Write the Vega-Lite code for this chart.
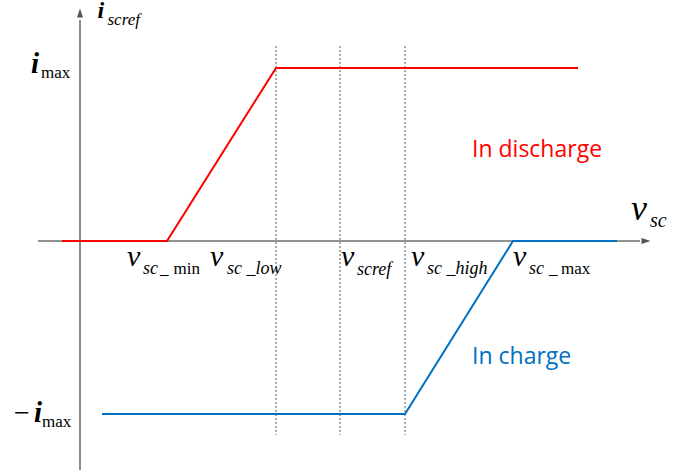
{
  "$schema": "https://vega.github.io/schema/vega-lite/v6.json",
  "width": 692,
  "height": 472,
  "padding": 0,
  "autosize": {"type": "none"},
  "config": {"view": {"stroke": null}},
  "datasets": {
    "axes": [
      {"x": -0.42, "y": 0, "x2": 5.6, "y2": 0},
      {"x": 0, "y": -1.324, "x2": 0, "y2": 1.277}
    ],
    "arrowUp": [{"x": 0, "y": 1.318}],
    "arrowRight": [{"x": 5.66, "y": 0}],
    "curves": [
      {"series": "discharge", "order": 1, "x": -0.18, "y": 0},
      {"series": "discharge", "order": 2, "x": 0.87, "y": 0},
      {"series": "discharge", "order": 3, "x": 1.96, "y": 1},
      {"series": "discharge", "order": 4, "x": 4.98, "y": 1},
      {"series": "charge", "order": 1, "x": 0.22, "y": -1},
      {"series": "charge", "order": 2, "x": 3.25, "y": -1},
      {"series": "charge", "order": 3, "x": 4.33, "y": 0},
      {"series": "charge", "order": 4, "x": 5.37, "y": 0}
    ],
    "guides": [
      {"x": 1.96, "y": 1.127, "y2": -1.121},
      {"x": 2.6, "y": 1.127, "y2": -1.121},
      {"x": 3.25, "y": 1.127, "y2": -1.121}
    ],
    "mainV": [
      {"label": "v", "x": 0.47, "y": -0.145},
      {"label": "v", "x": 1.3, "y": -0.145},
      {"label": "v", "x": 2.61, "y": -0.145},
      {"label": "v", "x": 3.31, "y": -0.145},
      {"label": "v", "x": 4.33, "y": -0.145}
    ],
    "mainI": [
      {"label": "i", "x": -0.49, "y": 0.971},
      {"label": "i", "x": -0.46, "y": -1.046}
    ],
    "smallI": [
      {"label": "i", "x": 0.175, "y": 1.289}
    ],
    "minus": [{"label": "−", "x": -0.66, "y": -1.046}],
    "axisV": [{"label": "v", "x": 5.51, "y": 0.121}],
    "subItalic": [
      {"label": "sc", "x": 0.63, "y": -0.191},
      {"label": "sc _low", "x": 1.47, "y": -0.191},
      {"label": "scref", "x": 2.77, "y": -0.197},
      {"label": "sc _high", "x": 3.47, "y": -0.191},
      {"label": "sc", "x": 4.49, "y": -0.191}
    ],
    "subTop": [
      {"label": "scref", "x": 0.275, "y": 1.249}
    ],
    "subAxis": [{"label": "sc", "x": 5.7, "y": 0.081}],
    "subUpright": [
      {"label": "_", "x": 0.8, "y": -0.191},
      {"label": "min", "x": 0.935, "y": -0.191},
      {"label": "_", "x": 4.69, "y": -0.191},
      {"label": "max", "x": 4.81, "y": -0.191},
      {"label": "max", "x": -0.39, "y": 0.942},
      {"label": "max", "x": -0.38, "y": -1.075}
    ],
    "notes": [
      {"label": "In discharge", "series": "discharge", "x": 3.92, "y": 0.486},
      {"label": "In charge", "series": "charge", "x": 3.92, "y": -0.711}
    ]
  },
  "encoding": {
    "x": {"field": "x", "type": "quantitative", "axis": null, "scale": {"domain": [-0.8, 6.12], "nice": false, "zero": false}},
    "y": {"field": "y", "type": "quantitative", "axis": null, "scale": {"domain": [-1.3353, 1.3931], "nice": false, "zero": false}}
  },
  "layer": [
    {
      "data": {"name": "guides"},
      "mark": {"type": "rule", "color": "#555555", "strokeWidth": 1, "strokeDash": [2, 2]},
      "encoding": {"y2": {"field": "y2"}}
    },
    {
      "data": {"name": "axes"},
      "mark": {"type": "rule", "color": "#6e6e6e", "strokeWidth": 1.6},
      "encoding": {"x2": {"field": "x2"}, "y2": {"field": "y2"}}
    },
    {
      "data": {"name": "arrowUp"},
      "mark": {"type": "point", "shape": "M-0.33,0.5L0,-0.5L0.33,0.5Z", "filled": true, "color": "#555555", "opacity": 1, "size": 324}
    },
    {
      "data": {"name": "arrowRight"},
      "mark": {"type": "point", "shape": "M-0.5,-0.33L0.5,0L-0.5,0.33Z", "filled": true, "color": "#555555", "opacity": 1, "size": 324}
    },
    {
      "data": {"name": "curves"},
      "mark": {"type": "line", "strokeWidth": 2},
      "encoding": {
        "color": {"field": "series", "type": "nominal", "legend": null, "scale": {"domain": ["discharge", "charge"], "range": ["#ff0000", "#0070c0"]}},
        "order": {"field": "order", "type": "quantitative"}
      }
    },
    {
      "data": {"name": "mainV"},
      "mark": {"type": "text", "font": "Liberation Serif", "fontStyle": "italic", "fontSize": 30, "align": "left", "baseline": "alphabetic", "color": "#000000"},
      "encoding": {"text": {"field": "label"}}
    },
    {
      "data": {"name": "mainI"},
      "mark": {"type": "text", "font": "Liberation Serif", "fontStyle": "italic", "fontWeight": "bold", "fontSize": 29, "align": "left", "baseline": "alphabetic", "color": "#000000"},
      "encoding": {"text": {"field": "label"}}
    },
    {
      "data": {"name": "smallI"},
      "mark": {"type": "text", "font": "Liberation Serif", "fontStyle": "italic", "fontWeight": "bold", "fontSize": 24, "align": "left", "baseline": "alphabetic", "color": "#000000"},
      "encoding": {"text": {"field": "label"}}
    },
    {
      "data": {"name": "minus"},
      "mark": {"type": "text", "font": "Liberation Serif", "fontSize": 28, "align": "left", "baseline": "alphabetic", "color": "#000000"},
      "encoding": {"text": {"field": "label"}}
    },
    {
      "data": {"name": "axisV"},
      "mark": {"type": "text", "font": "Liberation Serif", "fontStyle": "italic", "fontSize": 36, "align": "left", "baseline": "alphabetic", "color": "#000000"},
      "encoding": {"text": {"field": "label"}}
    },
    {
      "data": {"name": "subItalic"},
      "mark": {"type": "text", "font": "Liberation Serif", "fontStyle": "italic", "fontSize": 18, "align": "left", "baseline": "alphabetic", "color": "#000000"},
      "encoding": {"text": {"field": "label"}}
    },
    {
      "data": {"name": "subTop"},
      "mark": {"type": "text", "font": "Liberation Serif", "fontStyle": "italic", "fontSize": 17, "align": "left", "baseline": "alphabetic", "color": "#000000"},
      "encoding": {"text": {"field": "label"}}
    },
    {
      "data": {"name": "subAxis"},
      "mark": {"type": "text", "font": "Liberation Serif", "fontStyle": "italic", "fontSize": 20, "align": "left", "baseline": "alphabetic", "color": "#000000"},
      "encoding": {"text": {"field": "label"}}
    },
    {
      "data": {"name": "subUpright"},
      "mark": {"type": "text", "font": "Liberation Serif", "fontSize": 17, "align": "left", "baseline": "alphabetic", "color": "#000000"},
      "encoding": {"text": {"field": "label"}}
    },
    {
      "data": {"name": "notes"},
      "mark": {"type": "text", "font": "Open Sans", "fontSize": 23, "align": "left", "baseline": "alphabetic"},
      "encoding": {
        "text": {"field": "label"},
        "color": {"field": "series", "type": "nominal", "legend": null, "scale": {"domain": ["discharge", "charge"], "range": ["#ff0000", "#0070c0"]}}
      }
    }
  ]
}
